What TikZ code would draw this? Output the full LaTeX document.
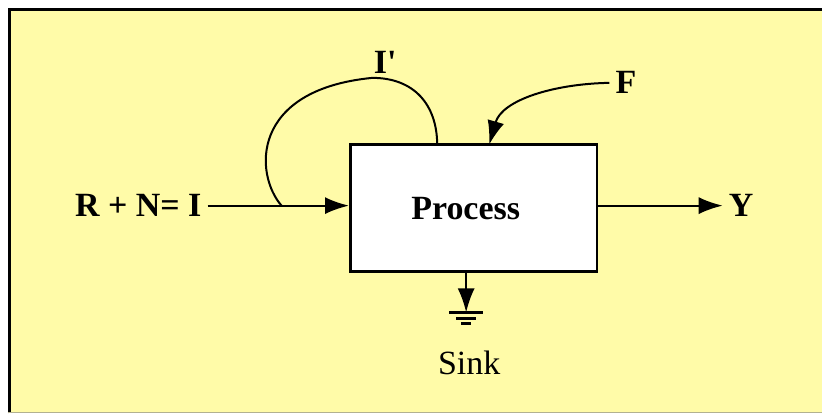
\documentclass[tikz,border=0pt]{standalone}
\usepackage{fontspec}
\setmainfont{Liberation Serif}
\usetikzlibrary{arrows.meta}
\definecolor{paper}{RGB}{255,251,168}
\begin{document}
\begin{tikzpicture}[x = 1pt, y = -1pt,
	wire/.style = {line width = 2pt},
	flow/.style = {wire, -{Latex[length = 24pt, width = 17pt]}},
	lbl/.style = {font = \fontsize{34}{40}\selectfont\bfseries, inner sep = 6pt}]
	\fill [white] (0,0) rectangle (823,414);
	\fill [paper] (8,8) rectangle (823,414);
	\draw [line width = 3pt] (9.5,414) -- (9.5,9.5) -- (823,9.5);
	\draw [gray!60!paper, line width = 1pt] (8,413.5) -- (823,413.5);
	\node [lbl, draw, fill = white, line width = 2.8pt, minimum width = 247pt, minimum height = 127pt] (proc) at (474.5,208.5) {Process\kern16pt};
	\node [lbl, anchor = east] (inp) at (208,206) {R + N= I};
	\node [lbl, anchor = west] (out) at (724,206) {Y};
	\node [lbl] (fb) at (627,83) {F};
	\node [lbl] (recyc) at (386,63) {I\textquotesingle};
	\node [font = \fontsize{34}{40}\selectfont, inner sep = 0pt] (sink) at (470,364) {Sink};
	\coordinate (split) at (282,206);
	\coordinate (back) at (438,145.5);
	\coordinate (earth) at (467,313);
	\draw [flow] (inp) -- (inp -| proc.west);
	\draw [flow] (out -| proc.east) -- (out);
	\draw [wire] (split) .. controls (255,175) and (250,90) .. (373,78) .. controls (415,78) and (438,105) .. (back);
	\draw [flow] (fb.west) .. controls (555,84) and (503,100) .. (490,145);
	\draw [flow] (proc.south -| earth) -- (earth);
	\draw [line width = 2.6pt] (earth) ++(-17,0) -- ++(34,0) (earth) ++(-10,6) -- ++(20,0) (earth) ++(-5,11) -- ++(10,0);
\end{tikzpicture}
\end{document}
